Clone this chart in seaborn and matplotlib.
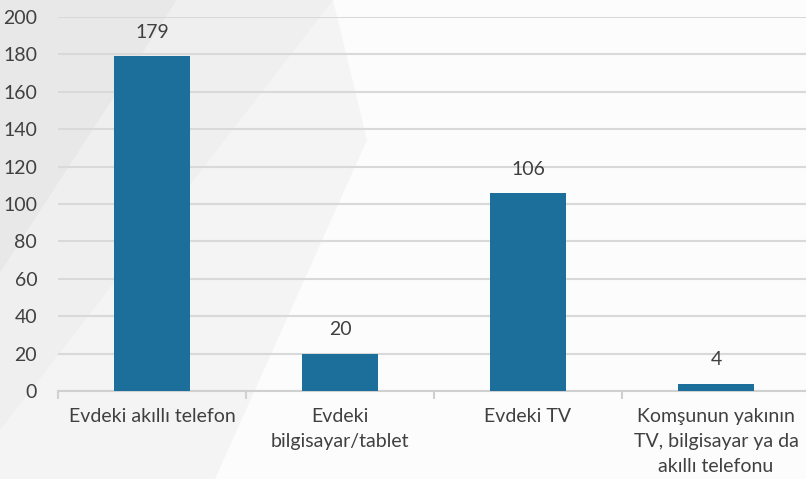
import matplotlib
matplotlib.use("Agg")
import matplotlib.pyplot as plt
import seaborn as sns
import pandas as pd
from matplotlib.patches import Polygon

categories = ["Evdeki akıllı telefon", "Evdeki\nbilgisayar/tablet", "Evdeki TV",
              "Komşunun yakının\nTV, bilgisayar ya da\nakıllı telefonu"]
values = [179, 20, 106, 4]
yticks = [0, 20, 40, 60, 80, 100, 120, 140, 160, 180, 200]

sns.set_theme(style="white")
plt.rcParams['font.family'] = ['Lato', 'DejaVu Sans']

W, H = 806, 479
fig = plt.figure(figsize=(W / 100, H / 100), dpi=100)
fig.patch.set_facecolor("#f4f4f4")

bg = fig.add_axes([0, 0, 1, 1], zorder=0)
bg.set_xlim(0, W)
bg.set_ylim(H, 0)
bg.axis("off")

def poly(pts, color):
    bg.add_patch(Polygon(pts, closed=True, facecolor=color, edgecolor="none"))

# subtle background shapes
poly([(333, 0), (W, 0), (W, H), (215, H), (367, 140)], "#fcfcfc")
poly([(0, 0), (177, 0), (0, 273)], "#e8e8e8")
poly([(177, 0), (333, 0), (0, 430), (0, 273)], "#efefef")

left, right, top, bottom = 58, 810, 17, 391
ax = fig.add_axes([left / W, 1 - bottom / H, (right - left) / W, (bottom - top) / H], zorder=1)
ax.set_facecolor("none")

df = pd.DataFrame({"cat": categories, "val": values})
sns.barplot(data=df, x="cat", y="val", color="#1b6f9a", width=0.4, saturation=1,
            ax=ax, zorder=3, edgecolor="none")

ax.set_ylim(0, 200)
ax.set_xlim(-0.5, 3.5)
ax.set_yticks(yticks)
ax.set_xlabel("")
ax.set_ylabel("")
ax.grid(axis="y", color="#d9d9d9", linewidth=1.5, zorder=0)
ax.set_axisbelow(True)
for s in ["top", "right", "left"]:
    ax.spines[s].set_visible(False)
ax.spines["bottom"].set_color("#d0d0d0")
ax.spines["bottom"].set_linewidth(1.5)

ax.tick_params(axis="y", length=0, labelsize=14, labelcolor="#404040", pad=15)
ax.tick_params(axis="x", which="major", length=0, labelsize=14, labelcolor="#404040", pad=12)
ax.set_xticks([-0.5, 0.5, 1.5, 2.5], minor=True)
ax.tick_params(axis="x", which="minor", length=6, width=1.5, color="#d0d0d0", bottom=True)
for lab in ax.get_xticklabels():
    lab.set_linespacing(1.58)

for i, v in enumerate(values):
    ax.annotate(str(v), (i, v), xytext=(0, 11), textcoords="offset points",
                ha="center", va="bottom", fontsize=14, color="#404040")

fig.savefig("out.png", dpi=100, facecolor=fig.get_facecolor())
